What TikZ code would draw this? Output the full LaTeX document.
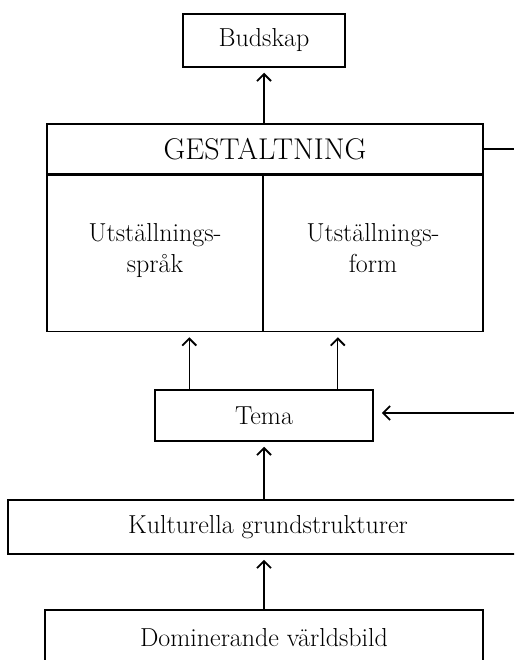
\documentclass[tikz,border=0pt]{standalone}
\usetikzlibrary{arrows.meta, positioning}

\tikzset{
  box/.style={rectangle, draw=black, line width=1.5pt, inner sep=0pt, align=center,
    font=\fontsize{26}{31}\selectfont},
  pil/.style={-{Straight Barb[length=7pt,width=14pt,line width=1.8pt]}, line width=1.4pt, shorten >=5pt},
  linje/.style={line width=1.4pt}
}

\begin{document}
\begin{tikzpicture}[x=1pt, y=-1pt]
  \useasboundingbox (0,0) rectangle (514,660);
  \clip (0,0) rectangle (514,660);

  \node[box, minimum width=162pt, minimum height=53pt] (budskap) at (264,40.5) {Budskap};
  \node[box, minimum width=436pt, minimum height=50pt,
        font=\fontsize{30}{34}\selectfont] (gestaltning) at (265,149) {GESTALTNING};
  \node[box, anchor=north west, minimum width=216pt, minimum height=156pt,
        text depth=12pt] (sprak) at (gestaltning.south west) {Utställnings-\\språk};
  \node[box, anchor=north east, minimum width=220pt, minimum height=156pt,
        text depth=12pt] (form) at (gestaltning.south east) {Utställnings-\\form};
  \node[box, minimum width=218pt, minimum height=51pt] (tema) at (264,415.5) {Tema};
  \node[box, minimum width=520pt, minimum height=54pt] (kultur) at (268,527) {Kulturella grundstrukturer};
  \node[box, minimum width=438pt, minimum height=56pt] (varldsbild) at (264,638) {Dominerande världsbild};

  \coordinate (rand) at (514,149);
  \coordinate (inn) at (514,413);

  \draw[pil] (budskap.south |- gestaltning.north) -- (budskap.south);
  \draw[pil] ([xshift=35pt]tema.north west) -- ([xshift=35pt]tema.north west |- sprak.south);
  \draw[pil] ([xshift=-36pt]tema.north east) -- ([xshift=-36pt]tema.north east |- form.south);
  \draw[linje] (gestaltning.east) -- (rand);
  \draw[pil, shorten >=8pt] (inn) -- (inn -| tema.east);
  \draw[pil] (tema.south |- kultur.north) -- (tema.south);
  \draw[pil] (varldsbild.north) -- (varldsbild.north |- kultur.south);
\end{tikzpicture}
\end{document}
